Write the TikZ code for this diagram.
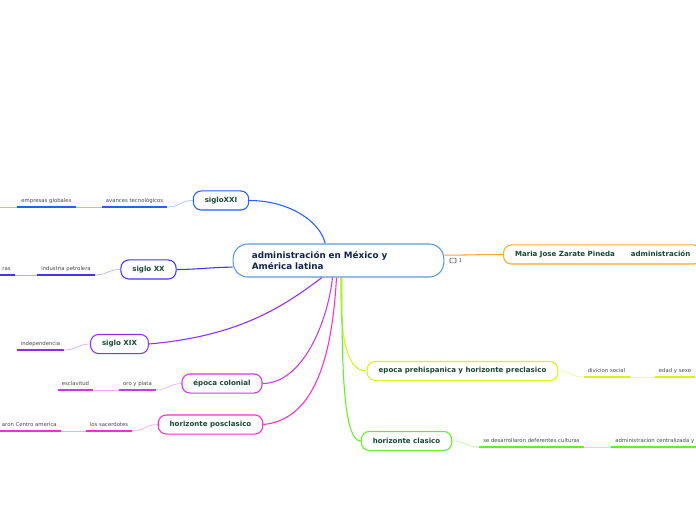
\documentclass[tikz,border=0pt]{standalone}
\usepackage{fontspec}
\setmainfont{DejaVu Sans}
\usetikzlibrary{positioning, backgrounds}

\definecolor{cMain}{RGB}{88,154,216}
\definecolor{cNavy}{RGB}{16,36,80}
\definecolor{cText}{RGB}{22,72,52}
\definecolor{cGray}{RGB}{70,70,70}
\definecolor{cOrange}{RGB}{255,168,38}
\definecolor{cXXI}{RGB}{36,96,255}
\definecolor{cXX}{RGB}{64,52,255}
\definecolor{cXIX}{RGB}{140,44,250}
\definecolor{cCol}{RGB}{206,52,245}
\definecolor{cPos}{RGB}{255,44,205}
\definecolor{cPre}{RGB}{218,242,24}
\definecolor{cCla}{RGB}{98,240,34}

\begin{document}
\begin{tikzpicture}[
    x=0.75pt, y=-0.75pt,
    central/.style={rectangle, rounded corners=11pt, draw=cMain, line width=0.8pt, fill=white, text=cNavy, font=\fontsize{6.6}{8.2}\selectfont\bfseries, text width=130pt, align=left, inner xsep=14pt, minimum height=24.75pt},
    topic/.style={rectangle, rounded corners=6pt, line width=0.8pt, fill=white, text=cText, font=\fontsize{5.3}{6}\selectfont\bfseries, inner xsep=8.6pt, inner ysep=0pt, minimum height=14.3pt},
    leaf/.style={font=\fontsize{4}{5}\selectfont, text=cGray, inner xsep=3pt, inner ysep=2.2pt, text height=3pt, text depth=0.8pt, anchor=south},
    link/.style={line width=0.8pt},
    twig/.style={line width=0.5pt},
    uline/.style={line width=1.2pt}
]
    \useasboundingbox (0,0) rectangle (696,520);

    % central topic
    \node[central] (main) at (338.5,260.5) {administración en México y\\América latina};
    \node[topic, draw=cOrange, anchor=west] (autora) at (503,254.5) {Maria Jose Zarate Pineda\hspace{12pt}administración};
    \node[draw=cGray, line width=0.4pt, minimum width=4.5pt, minimum height=3.5pt, inner sep=0pt, rounded corners=0.5pt] (nota) at (453,260.5) {};
    \node[font=\fontsize{4}{5}\selectfont, text=cGray, inner sep=0pt, right=1.5pt of nota] (notan) {1};

    % main topics
    \node[topic, draw=cXXI] (sxxi) at (221,200.5) {sigloXXI};
    \node[topic, draw=cXX] (sxx) at (148.5,269.5) {siglo XX};
    \node[topic, draw=cXIX] (sxix) at (119.5,344) {siglo XIX};
    \node[topic, draw=cCol] (colonial) at (222,383.5) {época colonial};
    \node[topic, draw=cPos] (posclasico) at (210.5,424.5) {horizonte posclasico};
    \node[topic, draw=cPre] (preclasico) at (462.5,371) {epoca prehispanica y horizonte preclasico};
    \node[topic, draw=cCla] (clasico) at (406.5,441) {horizonte clasico};

    % subtopics
    \node[leaf] (avances) at (134.5,207) {avances tecnológicos};
    \node[leaf] (empresas) at (46.5,207) {empresas globales};
    \coordinate (xxiend) at (0,207);
    \node[leaf] (petrolera) at (66,275) {industria petrolera};
    \node[leaf, anchor=south east] (ras) at (15,275) {ras};
    \node[leaf] (indep) at (40.5,350) {independencia};
    \node[leaf] (oro) at (137.5,390) {oro y plata};
    \node[leaf] (esclavitud) at (75.5,390) {esclavitud};
    \node[leaf] (sacerdotes) at (109,431) {los sacerdotes};
    \node[leaf, anchor=south east] (centro) at (61,431) {aron Centro america};
    \node[leaf] (divicion) at (606.5,377) {divicion social};
    \node[leaf] (edad) at (675,377) {edad y sexo};
    \node[leaf] (culturas) at (531.5,447) {se desarrollaron deferentes culturas};
    \node[leaf, anchor=south west] (centralizada) at (611,447) {administracion centralizada y};

    \begin{scope}[on background layer]
    % branches from the centre
    \draw[link, cOrange] ([yshift=4pt]main.east) .. controls +(25,0) and +(-25,0) .. (autora.west);
    \draw[link, cXXI] (sxxi.east) .. controls +(40,0) and +(-5,-22) .. ([xshift=-10pt]main.north);
    \draw[link, cXX] (sxx.east) .. controls +(20,0) and +(-20,0) .. ([yshift=-5pt]main.west);
    \draw[link, cXIX] (sxix.east) .. controls +(90,-8) and +(-40,30) .. ([xshift=-12.4pt]main.south);
    \draw[link, cCol] (colonial.east) .. controls +(40,0) and +(-5,45) .. ([xshift=-4.5pt]main.south);
    \draw[link, cPos] (posclasico.east) .. controls +(55,-5) and +(-4,70) .. ([xshift=-1.5pt]main.south);
    \draw[link, cPre] (preclasico.west) .. controls +(-22,0) and +(0,55) .. ([xshift=1.5pt]main.south);
    \draw[link, cCla] (clasico.west) .. controls +(-18,0) and +(0,85) .. ([xshift=2.5pt]main.south);

    % subtopic links
    \draw[twig, cXXI!40] (sxxi.west) .. controls +(-12,0) and +(12,0) .. (avances.south east);
    \draw[twig, cXXI!40] (avances.south west) -- (empresas.south east);
    \draw[twig, cXXI!40] (empresas.south west) -- (xxiend);
    \draw[twig, cXX!40] (sxx.west) .. controls +(-12,0) and +(12,0) .. (petrolera.south east);
    \draw[twig, cXX!40] (petrolera.south west) -- (ras.south east);
    \draw[twig, cXIX!40] (sxix.west) .. controls +(-12,0) and +(12,0) .. (indep.south east);
    \draw[twig, cCol!40] (colonial.west) .. controls +(-12,0) and +(12,0) .. (oro.south east);
    \draw[twig, cCol!40] (oro.south west) -- (esclavitud.south east);
    \draw[twig, cPos!40] (posclasico.west) .. controls +(-12,0) and +(12,0) .. (sacerdotes.south east);
    \draw[twig, cPos!40] (sacerdotes.south west) -- (centro.south east);
    \draw[twig, cPre!50] (preclasico.east) .. controls +(14,0) and +(-14,0) .. (divicion.south west);
    \draw[twig, cPre!50] (divicion.south east) -- (edad.south west);
    \draw[twig, cCla!45] (clasico.east) .. controls +(14,0) and +(-14,0) .. (culturas.south west);
    \draw[twig, cCla!45] (culturas.south east) -- (centralizada.south west);
    \end{scope}

    % underlines
    \draw[uline, cXXI] (avances.south west) -- (avances.south east);
    \draw[uline, cXXI] (empresas.south west) -- (empresas.south east);
    \draw[uline, cXX] (petrolera.south west) -- (petrolera.south east);
    \draw[uline, cXX] (ras.south west) -- (ras.south east);
    \draw[uline, cXIX] (indep.south west) -- (indep.south east);
    \draw[uline, cCol] (oro.south west) -- (oro.south east);
    \draw[uline, cCol] (esclavitud.south west) -- (esclavitud.south east);
    \draw[uline, cPos] (sacerdotes.south west) -- (sacerdotes.south east);
    \draw[uline, cPos] (centro.south west) -- (centro.south east);
    \draw[uline, cPre] (divicion.south west) -- (divicion.south east);
    \draw[uline, cPre] (edad.south west) -- (edad.south east);
    \draw[uline, cCla] (culturas.south west) -- (culturas.south east);
    \draw[uline, cCla] (centralizada.south west) -- (centralizada.south east);

\end{tikzpicture}
\end{document}
